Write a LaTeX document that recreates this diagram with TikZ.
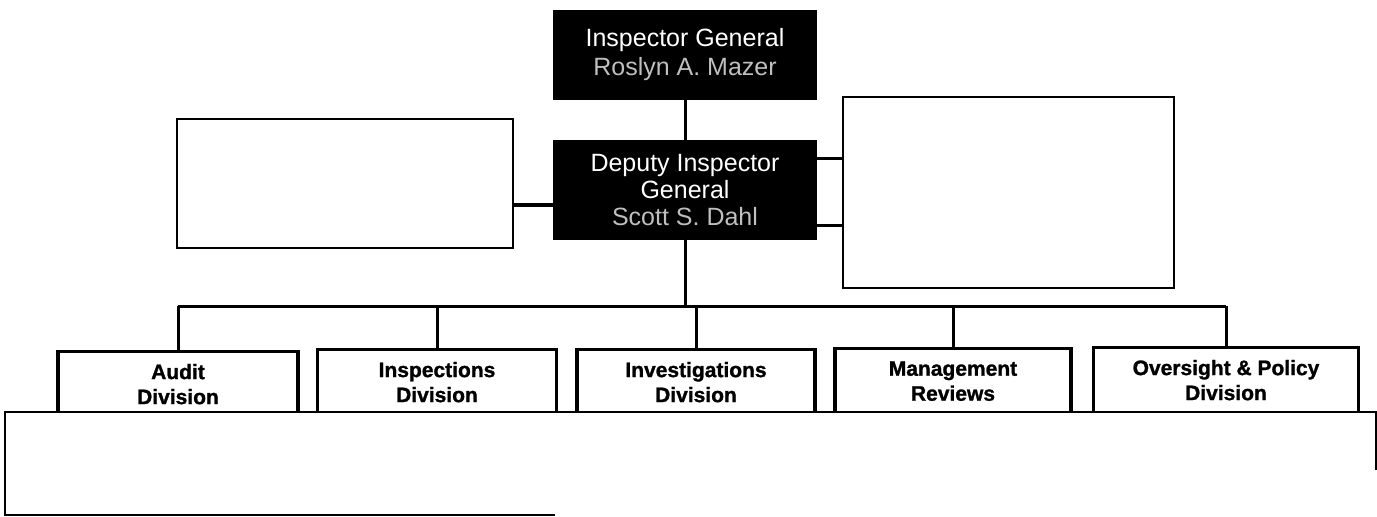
\documentclass[tikz,border=0pt]{standalone}
\usepackage{fontspec}
\setmainfont{Liberation Sans}
\usepackage{tikz}
\usetikzlibrary{positioning}
\definecolor{namegray}{gray}{0.75}

\begin{document}
\begin{tikzpicture}[x=0.5pt, y=-0.5pt,
  chief/.style={fill=black, text=white, align=center, inner sep=0pt, minimum width=132pt},
  blank/.style={draw, line width=0.8pt, inner sep=0pt},
  division/.style={draw, line width=1.6pt, align=center, anchor=north, inner sep=0pt, minimum height=32.5pt, font=\fontsize{10.5}{12.5}\selectfont\bfseries\addfontfeatures{FakeBold=1.2}},
  link/.style={line width=1.5pt}]
\useasboundingbox (0,0) rectangle (1377,516);

% front office
\node[chief, minimum height=45pt, font=\fontsize{12.5}{14.5}\selectfont] (ig) at (685,55) {Inspector General\\\textcolor{namegray}{Roslyn A. Mazer}};
\node[chief, minimum height=50pt, font=\fontsize{12.5}{13.5}\selectfont] (dig) at (685,190) {Deputy Inspector\\General\\\textcolor{namegray}{Scott S. Dahl}};
\node[blank, minimum width=168pt, minimum height=64.5pt] (staffL) at (345,183.5) {};
\node[blank, minimum width=165.5pt, minimum height=95.5pt] (staffR) at (1008.5,192.5) {};

\draw[link] (ig) -- (dig);
\coordinate (tapL) at ([yshift=-7.5pt]dig.west);
\coordinate (tapRa) at ([yshift=16pt]dig.east);
\coordinate (tapRb) at ([yshift=-17.5pt]dig.east);
\draw[link, line width=2pt] (tapL) -- (staffL.east |- tapL);
\draw[link] (tapRa) -- (staffR.west |- tapRa);
\draw[link] (tapRb) -- (staffR.west |- tapRb);

% divisions
\node[division, minimum width=120pt] (audit) at (178,350) {Audit\\Division};
\node[division, minimum width=119.5pt] (insp) at (437,348) {Inspections\\Division};
\node[division, minimum width=119pt] (inv) at (696,348) {Investigations\\Division};
\node[division, minimum width=118pt] (mgmt) at (953,347) {Management\\Reviews};
\node[division, minimum width=132.5pt] (osp) at (1226,346) {Oversight \& Policy\\Division};

\coordinate (bus) at (0,306);
\draw[link] (dig) -- (dig |- bus);
\draw[link] (audit.north |- bus) -- (osp.north |- bus);
\foreach \d in {audit,insp,inv,mgmt,osp}
  \draw[link] (\d.north) -- (\d.north |- bus);

% blank panel over the bottom
\fill[white] (5,412) rectangle (1377,516);
\draw[line width=1pt] (1376,470) -- (1376,412) -- (5,412) -- (5,515) -- (555,515);
\end{tikzpicture}
\end{document}
